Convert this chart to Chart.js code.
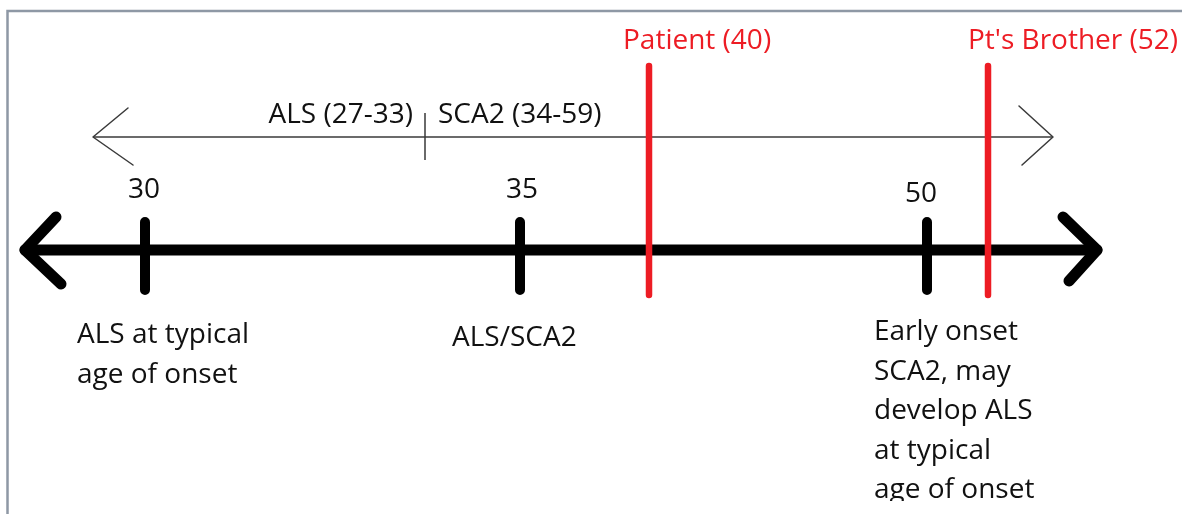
<!DOCTYPE html>
<html><head><meta charset="utf-8">
<script src="https://cdn.jsdelivr.net/npm/chart.js@4.4.1/dist/chart.umd.min.js"></script>
<style>html,body{margin:0;padding:0;background:#fff;overflow:hidden}#wrap{position:relative;width:1182px;height:514px}</style>
</head><body><div id="wrap"><canvas id="c" width="1182" height="514"></canvas></div>
<script>
// ---------------- DATA ----------------
const tickAges = [30, 35, 50];
const tickLabels = ['30', '35', '50'];
const tickNotes = [
  ['ALS at typical', 'age of onset'],
  ['ALS/SCA2'],
  ['Early onset', 'SCA2, may', 'develop ALS', 'at typical', 'age of onset']
];
const markerAges = [40, 52];
const markerLabels = ['Patient (40)', "Pt's Brother (52)"];
const rangeStarts = [27, 34];
const rangeEnds = [33, 59];
const rangeLabels = ['ALS (27-33)', 'SCA2 (34-59)'];
const axisLimits = [22, 64];

// ---------------- LAYOUT / STYLE ----------------
const W = 1182, H = 514;
// hand-drawn, non-linear timeline: age -> horizontal position (fraction of width)
const SCALE_ANCHORS = [[22, 25], [27, 93], [30, 145], [33.5, 425], [35, 520], [40, 649], [50, 927], [52, 988], [59, 1053], [64, 1097]]
  .map(([v, p]) => [v, p / W]);
const Y = { axis: 250, tickTop: 222, tickBot: 290, markTop: 66, markBot: 295, range: 137, divTop: 113, divBot: 160,
  tickLabel: [198, 198, 202], markLabel: 49, rangeLabel: 123, noteFirst: [343, 346, 340], noteStep: 39.5, noteClip: 501 };
const DX = { tickLabel: [-1, 2, -6], markLabel: [-26, -20], rangeGap: 12, note: [-68, -68, -53] };
const FONT = '500 28px "Open Sans"';
const BLACK = '#000000', TEXT = '#111111', RED = '#ed1c24', THIN = '#3a3a3a';

// ---------------- piecewise scale ----------------
class PiecewiseScale extends Chart.LinearScale {
  getPixelForValue(value) {
    const a = SCALE_ANCHORS;
    let i = 0;
    while (i < a.length - 2 && value > a[i + 1][0]) i++;
    const [v0, f0] = a[i], [v1, f1] = a[i + 1];
    return this.getPixelForDecimal(f0 + (value - v0) / (v1 - v0) * (f1 - f0));
  }
  getValueForPixel(pixel) {
    const a = SCALE_ANCHORS;
    const f = this.getDecimalForPixel(pixel);
    let i = 0;
    while (i < a.length - 2 && f > a[i + 1][1]) i++;
    const [v0, f0] = a[i], [v1, f1] = a[i + 1];
    return v0 + (f - f0) / (f1 - f0) * (v1 - v0);
  }
}
PiecewiseScale.id = 'piecewise';
PiecewiseScale.defaults = Chart.LinearScale.defaults;
Chart.register(PiecewiseScale);

function seg(x0, y0, x1, y1, color, width, cap) {
  return { data: [{ x: x0, y: y0 }, { x: x1, y: y1 }], borderColor: color, borderWidth: width,
    borderCapStyle: cap || 'round', pointRadius: 0, pointHoverRadius: 0, fill: false, tension: 0, clip: false };
}

const datasets = [];
markerAges.forEach(a => datasets.push(seg(a, Y.markTop, a, Y.markBot, RED, 6.5)));
tickAges.forEach(a => datasets.push(seg(a, Y.tickTop, a, Y.tickBot, BLACK, 10)));
datasets.push(seg(axisLimits[0], Y.axis, axisLimits[1], Y.axis, BLACK, 11));
const divAge = (rangeEnds[0] + rangeStarts[1]) / 2;
datasets.push(seg(divAge, Y.divTop, divAge, Y.divBot, THIN, 1.5, 'butt'));
datasets.push(seg(rangeStarts[0], Y.range, rangeEnds[rangeEnds.length - 1], Y.range, THIN, 1.5, 'butt'));

function chevron(ctx, tx, ty, a1, a2, color, width) {
  ctx.save();
  ctx.strokeStyle = color; ctx.lineWidth = width; ctx.lineCap = 'round'; ctx.lineJoin = 'round';
  ctx.beginPath();
  ctx.moveTo(tx + a1[0], ty + a1[1]); ctx.lineTo(tx, ty); ctx.lineTo(tx + a2[0], ty + a2[1]);
  ctx.stroke();
  ctx.restore();
}

const decor = {
  id: 'decor',
  beforeDraw(chart) {
    const ctx = chart.ctx;
    ctx.save();
    ctx.fillStyle = '#fff'; ctx.fillRect(0, 0, W, H);
    ctx.strokeStyle = '#8e98a5'; ctx.lineWidth = 2.5;
    ctx.beginPath(); ctx.moveTo(7.5, H); ctx.lineTo(7.5, 11); ctx.lineTo(W, 11); ctx.stroke();
    ctx.restore();
  },
  afterDatasetsDraw(chart) {
    const ctx = chart.ctx, xs = chart.scales.x, ys = chart.scales.y;
    const yA = ys.getPixelForValue(Y.axis), yR = ys.getPixelForValue(Y.range);
    // main axis arrowheads
    const xL = xs.getPixelForValue(axisLimits[0]), xRt = xs.getPixelForValue(axisLimits[1]);
    chevron(ctx, xL, yA, [31, -33], [36, 34], BLACK, 11);
    chevron(ctx, xRt, yA, [-34, -33], [-28, 31], BLACK, 11);
    // range arrowheads
    const rL = xs.getPixelForValue(rangeStarts[0]), rR = xs.getPixelForValue(rangeEnds[rangeEnds.length - 1]);
    chevron(ctx, rL, yR, [35, -29], [40, 28], THIN, 1.5);
    chevron(ctx, rR, yR, [-34, -31], [-31, 28], THIN, 1.5);

    ctx.save();
    ctx.font = FONT;
    ctx.textBaseline = 'alphabetic';
    // tick labels
    ctx.fillStyle = TEXT; ctx.textAlign = 'center';
    tickAges.forEach((a, i) => ctx.fillText(tickLabels[i], xs.getPixelForValue(a) + DX.tickLabel[i], ys.getPixelForValue(Y.tickLabel[i])));
    // range labels
    const xd = xs.getPixelForValue(divAge);
    ctx.textAlign = 'right';
    ctx.fillText(rangeLabels[0], xd - DX.rangeGap, ys.getPixelForValue(Y.rangeLabel));
    ctx.textAlign = 'left';
    ctx.fillText(rangeLabels[1], xd + DX.rangeGap + 1, ys.getPixelForValue(Y.rangeLabel));
    // marker labels
    ctx.fillStyle = RED;
    markerAges.forEach((a, i) => ctx.fillText(markerLabels[i], xs.getPixelForValue(a) + DX.markLabel[i], ys.getPixelForValue(Y.markLabel)));
    // notes
    ctx.beginPath(); ctx.rect(0, 0, W, ys.getPixelForValue(Y.noteClip)); ctx.clip();
    ctx.fillStyle = TEXT;
    tickAges.forEach((a, i) => {
      tickNotes[i].forEach((line, j) => {
        ctx.fillText(line, xs.getPixelForValue(a) + DX.note[i], ys.getPixelForValue(Y.noteFirst[i] + j * Y.noteStep));
      });
    });
    ctx.restore();
  }
};

new Chart(document.getElementById('c'), {
  type: 'line',
  data: { datasets },
  options: {
    responsive: false, animation: false, devicePixelRatio: 1,
    layout: { padding: 0 },
    plugins: { legend: { display: false }, tooltip: { enabled: false }, title: { display: false } },
    events: [],
    scales: {
      x: { type: 'piecewise', min: axisLimits[0], max: axisLimits[1], display: false },
      y: { type: 'linear', min: 0, max: H, reverse: true, display: false }
    }
  },
  plugins: [decor]
});
</script></body></html>
